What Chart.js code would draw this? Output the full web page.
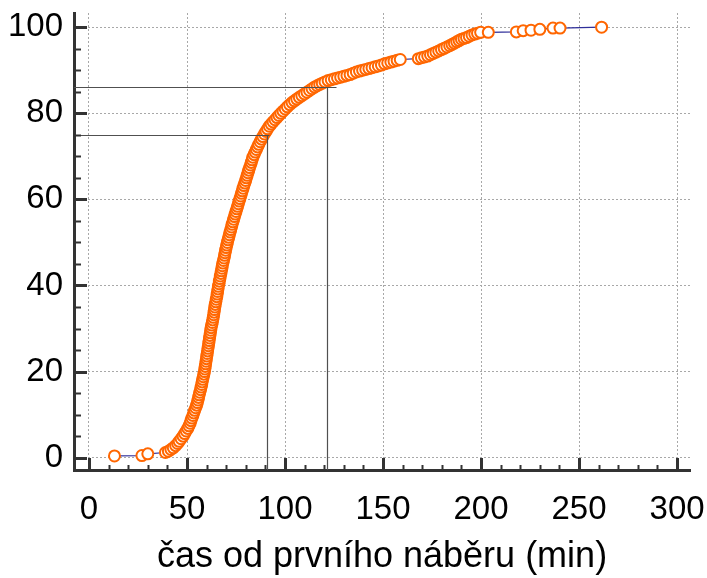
<!DOCTYPE html>
<html>
<head>
<meta charset="utf-8">
<script src="https://cdn.jsdelivr.net/npm/chart.js@4"></script>
<style>
  html, body { margin: 0; padding: 0; background: #ffffff; }
  #c { display: block; }
</style>
</head>
<body>
<canvas id="c" width="707" height="578"></canvas>
<script>
// Time from first sampling (min) for each case, sorted
const minutes = [
  13.0, 27.0, 30.0,
  39.0, 40.5, 41.8, 43.0, 44.2, 45.2, 46.0, 47.0, 48.0, 48.8,
  49.6, 50.4, 51.0, 51.6, 52.0, 52.5, 53.0, 53.4, 53.9, 54.4,
  54.9, 55.3, 55.6, 55.9, 56.2, 56.5, 56.9, 57.2, 57.5, 57.7,
  58.0, 58.3, 58.6, 58.9, 59.1, 59.3, 59.5, 59.7, 59.9, 60.1,
  60.3, 60.5, 60.7, 60.9, 61.1, 61.3, 61.5, 61.7, 61.9, 62.1,
  62.3, 62.6, 62.9, 63.1, 63.4, 63.6, 63.8, 64.0, 64.2, 64.4,
  64.7, 64.9, 65.2, 65.4, 65.6, 65.8, 66.0, 66.3, 66.5, 66.8,
  67.0, 67.3, 67.5, 67.8, 68.0, 68.3, 68.6, 68.9, 69.2, 69.4,
  69.7, 70.0, 70.3, 70.6, 70.9, 71.3, 71.6, 72.0, 72.3, 72.7,
  73.0, 73.4, 73.8, 74.2, 74.6, 75.0, 75.4, 75.8, 76.2, 76.6,
  77.0, 77.4, 77.8, 78.2, 78.6, 79.0, 79.5, 79.9, 80.3, 80.7,
  81.1, 81.5, 81.9, 82.4, 82.8, 83.2, 83.6, 84.2, 84.8, 85.4,
  86.0, 86.6, 87.3, 88.0, 88.7, 89.5, 90.3, 91.1, 92.0, 92.9,
  93.9, 94.9, 95.9, 96.9, 97.9, 99.0, 100.1, 101.2, 102.4, 103.6,
  104.8, 106.0, 107.3, 108.6, 109.9, 111.2, 112.5, 113.8, 115.1, 116.4,
  117.7, 119.0, 120.4, 122.0, 123.6, 125.2, 126.8, 128.4, 130.0, 131.6,
  133.2, 134.8, 136.4, 138.0, 139.6, 141.2, 142.8, 144.4, 146.0, 147.6,
  149.2, 150.8, 152.4, 154.0, 155.6, 157.2, 158.8,
  168.0, 169.6, 171.2, 172.8, 174.2, 175.6, 177.0, 178.4, 179.8, 181.2,
  182.6, 184.0, 185.2, 186.4, 187.6, 188.8, 190.0, 191.3, 192.6, 194.0,
  195.4, 196.8, 198.2, 199.8, 203.7,
  218.0, 221.5, 225.5, 230.0, 236.7, 240.3, 261.5
];

// Cumulative share of cases (%) at each time above
const percent = [
  0.4, 0.5, 0.9,
  1.2, 1.5, 1.9, 2.3, 2.8, 3.3, 3.8, 4.4, 5.0, 5.6,
  6.2, 6.8, 7.4, 8.0, 8.6, 9.2, 9.8, 10.4, 11.0, 11.6,
  12.2, 12.8, 13.4, 14.0, 14.6, 15.2, 15.8, 16.4, 17.0, 17.6,
  18.2, 18.8, 19.4, 20.0, 20.6, 21.2, 21.8, 22.4, 23.0, 23.6,
  24.2, 24.8, 25.4, 26.0, 26.6, 27.2, 27.8, 28.4, 29.0, 29.6,
  30.2, 30.8, 31.4, 32.0, 32.6, 33.2, 33.8, 34.4, 35.0, 35.6,
  36.2, 36.8, 37.4, 38.0, 38.6, 39.2, 39.8, 40.4, 41.0, 41.6,
  42.2, 42.8, 43.4, 44.0, 44.6, 45.2, 45.8, 46.4, 47.0, 47.6,
  48.2, 48.8, 49.4, 50.0, 50.6, 51.2, 51.8, 52.4, 53.0, 53.6,
  54.2, 54.8, 55.4, 56.0, 56.6, 57.2, 57.8, 58.4, 59.0, 59.6,
  60.2, 60.8, 61.4, 62.0, 62.6, 63.2, 63.8, 64.4, 65.0, 65.6,
  66.2, 66.8, 67.4, 68.0, 68.6, 69.2, 69.8, 70.4, 71.0, 71.6,
  72.2, 72.8, 73.4, 74.0, 74.6, 75.2, 75.8, 76.4, 77.0, 77.5,
  78.0, 78.5, 79.0, 79.5, 80.0, 80.5, 81.0, 81.5, 82.0, 82.5,
  82.9, 83.3, 83.7, 84.1, 84.5, 84.9, 85.3, 85.7, 86.1, 86.4,
  86.7, 87.0, 87.3, 87.6, 87.8, 88.0, 88.2, 88.4, 88.6, 88.8,
  89.0, 89.3, 89.6, 89.8, 90.0, 90.2, 90.4, 90.6, 90.8, 91.0,
  91.2, 91.5, 91.7, 91.9, 92.1, 92.3, 92.5,
  92.7, 92.9, 93.1, 93.3, 93.6, 93.9, 94.2, 94.5, 94.8, 95.1,
  95.4, 95.7, 96.0, 96.3, 96.6, 96.9, 97.2, 97.4, 97.6, 97.9,
  98.2, 98.4, 98.6, 98.8, 98.8,
  98.9, 99.2, 99.3, 99.5, 99.8, 99.8, 100.0
];

// Axis ticks
const xTickValues = [0, 50, 100, 150, 200, 250, 300];
const yTickValues = [0, 20, 40, 60, 80, 100];
const xMinorStep = 10;
const yMinorStep = 5;

// Marked percentiles: share (%) and the time (min) where it is reached
const refPercent = [75, 86.2];
const refMinutes = [91, 121.5];

const xTitle = 'čas od prvního náběru (min)';

// ---- styling ----
const FONT = "'Liberation Sans', Arial, Helvetica, sans-serif";
const AXIS_COLOR = '#333333';
const refLineStyle = [
  { inset: 6, overrun: 2 },
  { inset: 0, overrun: 9 }
];

const points = minutes.map((m, i) => ({ x: m, y: percent[i] }));

// Inward major/minor tick marks on both axes
const innerTicks = {
  id: 'innerTicks',
  afterDraw(chart) {
    const { ctx, chartArea: a, scales: { x, y } } = chart;
    ctx.save();
    ctx.strokeStyle = AXIS_COLOR;
    ctx.lineCap = 'butt';
    const xFirst = xTickValues[0], xLast = xTickValues[xTickValues.length - 1];
    for (let v = xFirst; v <= xLast + 1e-9; v += xMinorStep) {
      const major = xTickValues.includes(v);
      const px = Math.round(x.getPixelForValue(v)) + 0.5;
      ctx.lineWidth = major ? 3 : 2;
      ctx.beginPath();
      ctx.moveTo(px, a.bottom);
      ctx.lineTo(px, a.bottom - (major ? 12 : 5));
      ctx.stroke();
    }
    const yFirst = yTickValues[0], yLast = yTickValues[yTickValues.length - 1];
    for (let v = yFirst; v <= yLast + 1e-9; v += yMinorStep) {
      const major = yTickValues.includes(v);
      const py = Math.round(y.getPixelForValue(v)) + 0.5;
      ctx.lineWidth = major ? 3 : 2;
      ctx.beginPath();
      ctx.moveTo(a.left, py);
      ctx.lineTo(a.left + (major ? 13 : 7), py);
      ctx.stroke();
    }
    ctx.restore();
  }
};

// Percentile guide lines: across from the y axis, then down to the x axis
const percentileGuides = {
  id: 'percentileGuides',
  afterDatasetsDraw(chart) {
    const { ctx, chartArea: a, scales: { x, y } } = chart;
    ctx.save();
    ctx.strokeStyle = '#505050';
    ctx.lineWidth = 1.2;
    refPercent.forEach((p, i) => {
      const py = Math.round(y.getPixelForValue(p)) + 0.5;
      const px = Math.round(x.getPixelForValue(refMinutes[i])) + 0.5;
      const st = refLineStyle[i];
      ctx.beginPath();
      ctx.moveTo(a.left + st.inset, py);
      ctx.lineTo(px + st.overrun, py);
      ctx.moveTo(px, py);
      ctx.lineTo(px, a.bottom);
      ctx.stroke();
    });
    ctx.restore();
  }
};

new Chart(document.getElementById('c'), {
  type: 'scatter',
  data: {
    datasets: [{
      data: points,
      showLine: true,
      borderColor: '#2f2f9a',
      borderWidth: 1.2,
      pointRadius: 5.5,
      pointHoverRadius: 5.5,
      pointBorderWidth: 2,
      pointBorderColor: '#ff6600',
      pointBackgroundColor: '#ffffff',
      tension: 0
    }]
  },
  options: {
    responsive: false,
    animation: false,
    devicePixelRatio: 1,
    layout: { padding: { left: 0, right: 17, top: 13, bottom: 0 } },
    plugins: {
      legend: { display: false },
      tooltip: { enabled: false }
    },
    scales: {
      x: {
        type: 'linear',
        min: -7.65,
        max: 306.6,
        afterBuildTicks: s => { s.ticks = xTickValues.map(v => ({ value: v })); },
        afterFit: s => { s.height = 108; s.paddingLeft = 0; s.paddingRight = 0; },
        grid: { color: '#a8a8a8', lineWidth: 1, drawTicks: false },
        border: { display: true, color: AXIS_COLOR, width: 3, dash: [2, 2] },
        ticks: {
          color: '#000',
          padding: 20,
          maxRotation: 0,
          font: { family: FONT, size: 33, lineHeight: 1.2 }
        },
        title: {
          display: true,
          text: xTitle,
          color: '#000',
          padding: { top: 0, bottom: 3 },
          font: { family: FONT, size: 36, lineHeight: 1 }
        }
      },
      y: {
        type: 'linear',
        min: -2.86,
        max: 103.3,
        afterBuildTicks: s => { s.ticks = yTickValues.map(v => ({ value: v })); },
        afterFit: s => { s.width = 74; s.paddingTop = 0; s.paddingBottom = 0; },
        grid: { color: '#a8a8a8', lineWidth: 1, drawTicks: false },
        border: { display: true, color: AXIS_COLOR, width: 3, dash: [2, 2] },
        ticks: {
          color: '#000',
          padding: 11,
          font: { family: FONT, size: 33, lineHeight: 1.2 }
        }
      }
    }
  },
  plugins: [percentileGuides, innerTicks]
});
</script>
</body>
</html>
